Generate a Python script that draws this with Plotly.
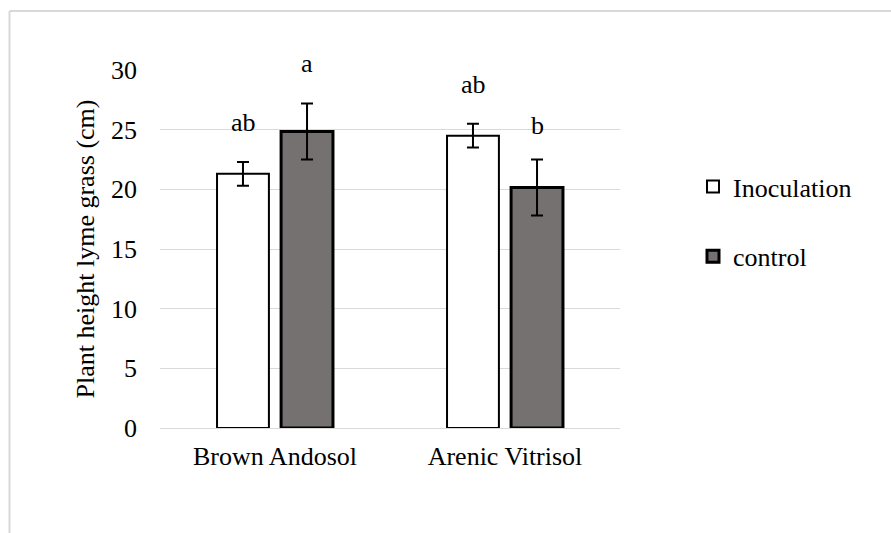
import plotly.graph_objects as go

categories = ["Brown Andosol", "Arenic Vitrisol"]
inoculation = [21.3, 24.5]
inoculation_err = [1.0, 1.0]
control = [24.85, 20.15]
control_err = [2.35, 2.35]
inoc_letters = ["ab", "ab"]
ctrl_letters = ["a", "b"]
y_ticks = [0, 5, 10, 15, 20, 25, 30]

FONT = "Liberation Serif, Times New Roman, serif"
FS = 26
inoc_shift = [23, 23]
ctrl_shift = [23, 18]

fig = go.Figure()
fig.add_trace(go.Bar(
    name="Inoculation", x=categories, y=inoculation,
    marker=dict(color="white", line=dict(color="black", width=2)),
    error_y=dict(type="data", array=inoculation_err, color="black", thickness=2, width=6),
    legendgroup="g1",
))
fig.add_trace(go.Bar(
    name="control", x=categories, y=control,
    marker=dict(color="#767171", line=dict(color="black", width=3)),
    error_y=dict(type="data", array=control_err, color="black", thickness=2, width=6),
    legendgroup="g2",
))

# significance letters
for i, c in enumerate(categories):
    fig.add_annotation(x=c, y=inoculation[i] + inoculation_err[i], text=inoc_letters[i],
                       xref="x", yref="y", showarrow=False, yanchor="bottom",
                       xshift=-32, yshift=inoc_shift[i], font=dict(family=FONT, size=FS, color="black"))
    fig.add_annotation(x=c, y=control[i] + control_err[i], text=ctrl_letters[i],
                       xref="x", yref="y", showarrow=False, yanchor="bottom",
                       xshift=32, yshift=ctrl_shift[i], font=dict(family=FONT, size=FS, color="black"))

# outer chart-area border (left and top lines)
L, R, T, B = 160, 271, 70, 105
W, H = 891, 533
pw, ph = W - L - R, H - T - B
def px(x): return (x - L) / pw
def py(y): return (H - B - y) / ph
fig.add_shape(type="line", xref="paper", yref="paper", x0=px(9.5), x1=px(891), y0=py(11), y1=py(11),
              line=dict(color="#d9d9d9", width=2))
fig.add_shape(type="line", xref="paper", yref="paper", x0=px(9.5), x1=px(9.5), y0=py(11), y1=py(533),
              line=dict(color="#d9d9d9", width=2))

fig.update_layout(
    width=W, height=H,
    margin=dict(l=L, r=R, t=T, b=B),
    paper_bgcolor="white", plot_bgcolor="white",
    font=dict(family=FONT, size=FS, color="black"),
    barmode="group", bargap=0.443, bargroupgap=0.19,
    showlegend=True,
    legend=dict(x=px(693), y=py(163), xanchor="left", yanchor="top",
                font=dict(family=FONT, size=FS, color="black"),
                tracegroupgap=33, itemwidth=30, bgcolor="rgba(0,0,0,0)"),
    xaxis=dict(showgrid=False, showline=False, ticks="", tickfont=dict(size=FS), ticklabelstandoff=10),
    yaxis=dict(range=[0, 30], tickvals=y_ticks, showgrid=True, gridcolor="#d9d9d9", gridwidth=1,
               zeroline=True, zerolinecolor="#d9d9d9", zerolinewidth=1, showline=False,
               tickfont=dict(size=FS), ticklabelstandoff=22,
               title=dict(text="Plant height lyme grass (cm)", font=dict(size=FS), standoff=8)),
)

fig.write_html("out.html")
